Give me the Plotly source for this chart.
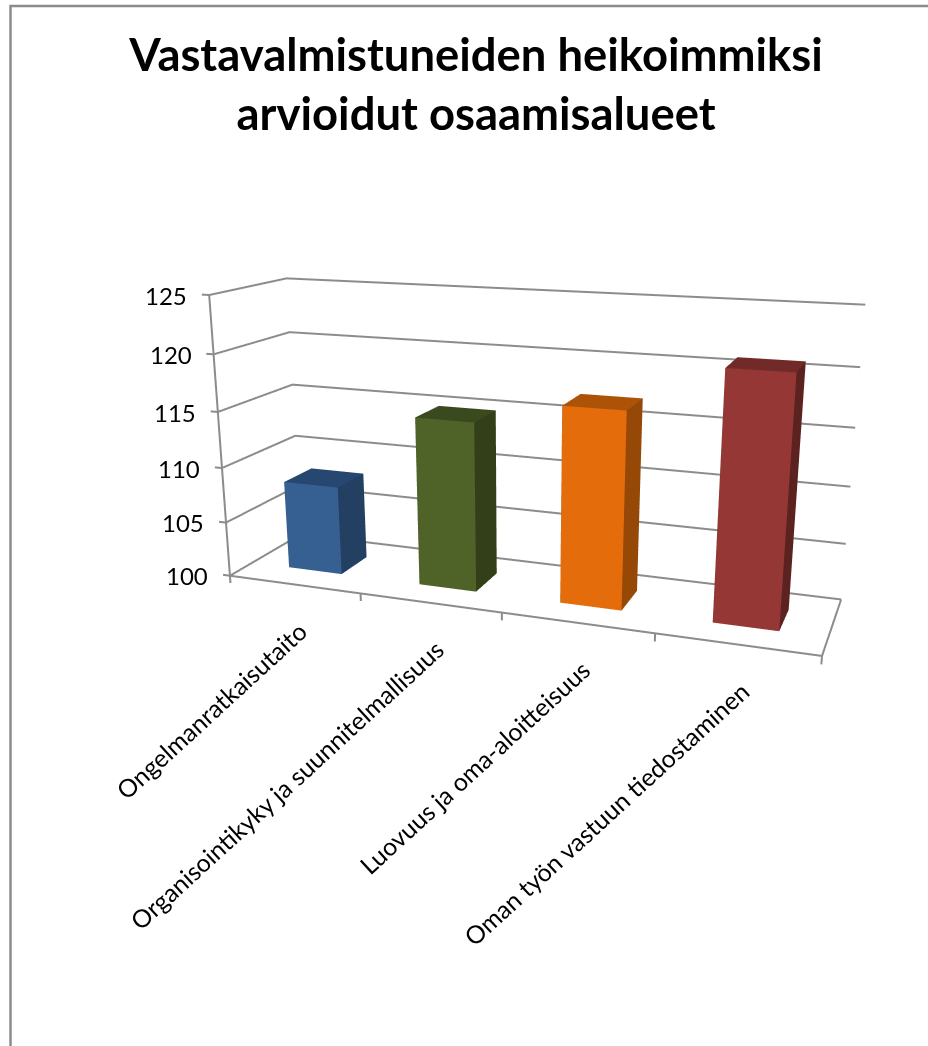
import plotly.graph_objects as go

categories = ["Ongelmanratkaisutaito", "Organisointikyky ja suunnitelmallisuus", "Luovuus ja oma-aloitteisuus", "Oman työn vastuun tiedostaminen"]
values = [108.1, 115.0, 117.0, 120.9]
tick_labels = [100, 105, 110, 115, 120, 125]
front = ["#376092", "#4F6228", "#E46C0A", "#953735"]
side = ["#233F62", "#333F19", "#964806", "#5C2220"]
top = ["#254770", "#3B4A1E", "#AD5308", "#722A28"]
GRID = "#8c8c8c"
W, H = 928, 1046

fig = go.Figure()
HALF = .206
Y0, Y1 = .30, .69
for i, v in enumerate(values):
    x0, x1 = i + .5 - HALF, i + .5 + HALF
    fig.add_trace(go.Mesh3d(
        x=[x0, x1, x1, x0, x0, x1, x1, x0], y=[Y0, Y0, Y1, Y1, Y0, Y0, Y1, Y1], z=[100, 100, 100, 100, v, v, v, v],
        i=[0, 0, 1, 1, 4, 4, 3, 3, 0, 0, 2, 2], j=[1, 5, 2, 6, 5, 6, 2, 6, 3, 7, 1, 5], k=[5, 4, 6, 5, 6, 7, 6, 7, 7, 4, 5, 6],
        facecolor=[front[i]] * 2 + [side[i]] * 2 + [top[i]] * 2 + [side[i]] * 6,
        lighting=dict(ambient=1, diffuse=0, specular=0, fresnel=0), flatshading=True, hoverinfo="skip"))

def line(xs, ys, zs):
    fig.add_trace(go.Scatter3d(x=xs, y=ys, z=zs, mode="lines", line=dict(color=GRID, width=4), hoverinfo="skip"))

for t in tick_labels:
    line([0, 0, 4], [0, 1, 1], [t, t, t])
    line([0, -.055], [0, 0], [t, t])
for k in range(len(categories) + 1):
    line([k, k], [0, 0], [100, 99.3])
line([0, 4, 4], [0, 0, 1], [100, 100, 100])
line([0, 0], [0, 0], [100, 125])

# axis ranges are padded symmetrically so frame lines are not clipped; the aspect ratio is scaled to keep the same scale
XP, YP, ZP = .2, .05, 1
noax = dict(title="", showgrid=False, showbackground=False, showline=False, zeroline=False, showspikes=False, showticklabels=False, ticks="")
fig.update_layout(width=W, height=H, margin=dict(l=0, r=0, t=0, b=0), paper_bgcolor="white", showlegend=False,
    title=dict(text="Vastavalmistuneiden heikoimmiksi<br>arvioidut osaamisalueet", x=.513, y=.932, xanchor="center", yanchor="top",
               font=dict(family="Lato", size=45.4, color="black", weight="bold")),
    scene=dict(domain=dict(x=[.12199, 1], y=[.00172, .99872]),
        xaxis=dict(range=[-XP, 4 + XP], **noax),
        yaxis=dict(range=[-YP, 1 + YP], **noax),
        zaxis=dict(range=[100 - ZP, 125 + ZP], **noax),
        aspectmode="manual",
        aspectratio=dict(x=2.0889 * (4 + 2 * XP) / 4, y=.5095 * (1 + 2 * YP), z=(25 + 2 * ZP) / 25),
        camera=dict(eye=dict(x=1.3924, y=-3.8929, z=1.0449), center=dict(x=.0021, y=-.0794, z=-.2383), up=dict(x=0, y=0, z=1), projection=dict(type="perspective")),
        annotations=[dict(x=i + .5, y=0, z=100, text=t, textangle=-42.5, showarrow=False, xanchor="right", yanchor="top", xshift=21, yshift=-29, font=dict(family="Lato", size=24.8, color="black")) for i, t in enumerate(categories)]
        + [dict(x=0, y=0, z=t, text=str(t), showarrow=False, xanchor="right", yanchor="middle", xshift=-20, font=dict(family="Lato", size=24, color="black")) for t in tick_labels],
    ),
    shapes=[dict(type="rect", xref="paper", yref="paper", x0=10.5 / W, x1=1.2, y0=-.1, y1=1 - 6 / H, line=dict(color="#8c8c8c", width=2.5))])
fig.write_html("out.html", post_script="document.body.style.margin='0';", config=dict(displayModeBar=False))
